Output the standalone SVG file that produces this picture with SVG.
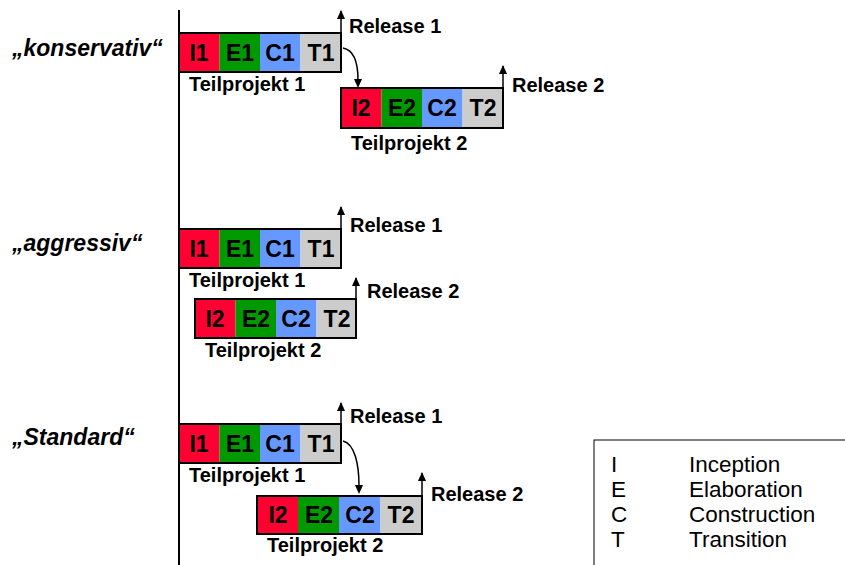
<svg xmlns="http://www.w3.org/2000/svg" width="845" height="565" viewBox="0 0 845 565">
<defs>
<style>
.seg{stroke:none}
.r{fill:#FF0033}.g{fill:#009900}.b{fill:#6699FF}.y{fill:#CCCCCC}
.box{fill:none;stroke:#000;stroke-width:2}
.st{font-family:"Liberation Sans",Arial,sans-serif;font-weight:bold;font-size:23px;fill:#000;text-anchor:middle}
.lb{font-family:"Liberation Sans",Arial,sans-serif;font-weight:bold;font-size:20px;fill:#000}
.cat{font-family:"Liberation Sans",Arial,sans-serif;font-weight:bold;font-style:italic;font-size:23px;fill:#000}
.lg{font-family:"Liberation Sans",Arial,sans-serif;font-size:22.5px;fill:#000}
.ln{stroke:#000;stroke-width:1.5;fill:none}
</style>
<marker id="up" markerWidth="8" markerHeight="9" refX="4" refY="1" orient="0" markerUnits="userSpaceOnUse" viewBox="0 0 8 9">
<path d="M4,0 L8,9 L0,9 Z" fill="#000"/>
</marker>
</defs>
<line x1="179" y1="10" x2="179" y2="565" stroke="#000" stroke-width="2"/>

<text class="cat" x="12" y="56">„konservativ“</text>
<text class="cat" x="12" y="251">„aggressiv“</text>
<text class="cat" x="12" y="445">„Standard“</text>

<g id="kons-tp1">
<rect class="seg r" x="179" y="33" width="40.5" height="39"/>
<rect class="seg g" x="219.5" y="33" width="40.5" height="39"/>
<rect class="seg b" x="260" y="33" width="40.5" height="39"/>
<rect class="seg y" x="300.5" y="33" width="40.5" height="39"/>
<rect class="box" x="179" y="33" width="162" height="39"/>
<text class="st" x="199" y="61">I1</text><text class="st" x="240" y="61">E1</text><text class="st" x="280" y="61">C1</text><text class="st" x="321" y="61">T1</text>
<text class="lb" x="189" y="91">Teilprojekt 1</text>
<line class="ln" x1="341" y1="33" x2="341" y2="11" marker-end="url(#up)"/>
<text class="lb" x="349" y="33">Release 1</text>
</g>
<g id="kons-tp2">
<rect class="seg r" x="341" y="88" width="40.5" height="40"/>
<rect class="seg g" x="381.5" y="88" width="40.5" height="40"/>
<rect class="seg b" x="422" y="88" width="40.5" height="40"/>
<rect class="seg y" x="462.5" y="88" width="40.5" height="40"/>
<rect class="box" x="341" y="88" width="162" height="40"/>
<text class="st" x="361" y="116">I2</text><text class="st" x="402" y="116">E2</text><text class="st" x="442" y="116">C2</text><text class="st" x="483" y="116">T2</text>
<text class="lb" x="351" y="150">Teilprojekt 2</text>
<line class="ln" x1="503" y1="88" x2="503" y2="66" marker-end="url(#up)"/>
<text class="lb" x="512" y="92">Release 2</text>
</g>

<g id="aggr-tp1">
<rect class="seg r" x="179" y="229" width="40.5" height="39"/>
<rect class="seg g" x="219.5" y="229" width="40.5" height="39"/>
<rect class="seg b" x="260" y="229" width="40.5" height="39"/>
<rect class="seg y" x="300.5" y="229" width="40.5" height="39"/>
<rect class="box" x="179" y="229" width="162" height="39"/>
<text class="st" x="199" y="257">I1</text><text class="st" x="240" y="257">E1</text><text class="st" x="280" y="257">C1</text><text class="st" x="321" y="257">T1</text>
<text class="lb" x="189" y="287">Teilprojekt 1</text>
<line class="ln" x1="341" y1="229" x2="341" y2="207" marker-end="url(#up)"/>
<text class="lb" x="350" y="232">Release 1</text>
</g>
<g id="aggr-tp2">
<rect class="seg r" x="195" y="299" width="40.5" height="39"/>
<rect class="seg g" x="235.5" y="299" width="40.5" height="39"/>
<rect class="seg b" x="276" y="299" width="40.5" height="39"/>
<rect class="seg y" x="316.5" y="299" width="40.5" height="39"/>
<rect class="box" x="195" y="299" width="161" height="39"/>
<text class="st" x="215" y="327">I2</text><text class="st" x="256" y="327">E2</text><text class="st" x="296" y="327">C2</text><text class="st" x="337" y="327">T2</text>
<text class="lb" x="205" y="357">Teilprojekt 2</text>
<line class="ln" x1="356" y1="299" x2="356" y2="278" marker-end="url(#up)"/>
<text class="lb" x="367" y="298">Release 2</text>
</g>

<g id="std-tp1">
<rect class="seg r" x="179" y="424" width="40.5" height="39"/>
<rect class="seg g" x="219.5" y="424" width="40.5" height="39"/>
<rect class="seg b" x="260" y="424" width="40.5" height="39"/>
<rect class="seg y" x="300.5" y="424" width="40.5" height="39"/>
<rect class="box" x="179" y="424" width="162" height="39"/>
<text class="st" x="199" y="452">I1</text><text class="st" x="240" y="452">E1</text><text class="st" x="280" y="452">C1</text><text class="st" x="321" y="452">T1</text>
<text class="lb" x="189" y="482">Teilprojekt 1</text>
<line class="ln" x1="341" y1="424" x2="341" y2="403" marker-end="url(#up)"/>
<text class="lb" x="350" y="423">Release 1</text>
</g>
<g id="std-tp2">
<rect class="seg r" x="257" y="496" width="41" height="38"/>
<rect class="seg g" x="298" y="496" width="41" height="38"/>
<rect class="seg b" x="339" y="496" width="41" height="38"/>
<rect class="seg y" x="380" y="496" width="42" height="38"/>
<rect class="box" x="257" y="496" width="165" height="38"/>
<text class="st" x="278" y="523">I2</text><text class="st" x="319" y="523">E2</text><text class="st" x="360" y="523">C2</text><text class="st" x="401" y="523">T2</text>
<text class="lb" x="267" y="552">Teilprojekt 2</text>
<line class="ln" x1="422" y1="496" x2="422" y2="473" marker-end="url(#up)"/>
<text class="lb" x="431" y="501">Release 2</text>
</g>

<g id="connectors">
<path class="ln" d="M343,48 C354,50 358,62 358,80" />
<path d="M354,79 L362,79 L358,88 Z" fill="#000"/>
<path class="ln" d="M343,441 C355,444 359,465 359,486" />
<path d="M355,485 L363,485 L359,494 Z" fill="#000"/>
</g>

<g id="legend">
<rect x="594" y="440" width="260" height="135" fill="none" stroke="#000" stroke-width="1"/>
<text class="lg" x="611" y="472">I</text><text class="lg" x="689" y="472">Inception</text>
<text class="lg" x="611" y="497">E</text><text class="lg" x="689" y="497">Elaboration</text>
<text class="lg" x="611" y="522">C</text><text class="lg" x="689" y="522">Construction</text>
<text class="lg" x="611" y="547">T</text><text class="lg" x="689" y="547">Transition</text>
</g>
</svg>
